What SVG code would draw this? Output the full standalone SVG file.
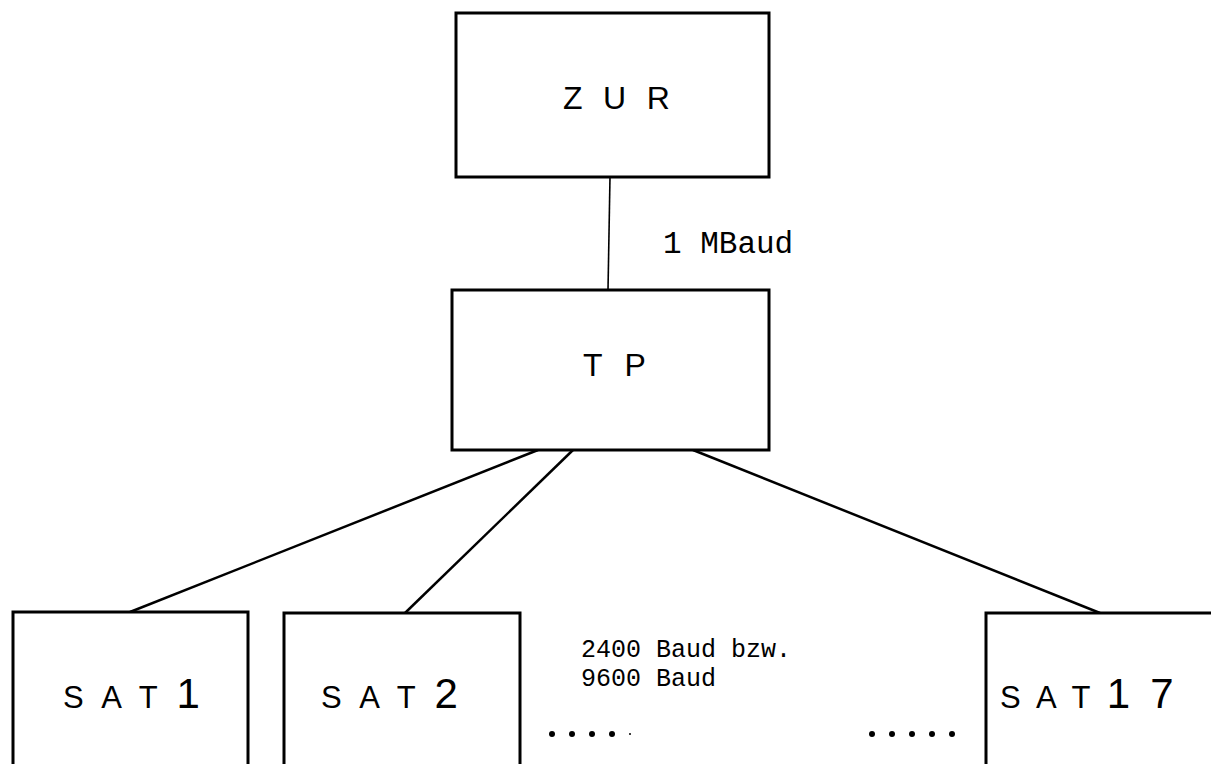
<svg xmlns="http://www.w3.org/2000/svg" width="1211" height="764" viewBox="0 0 1211 764">
<style>
.box{fill:#fff;stroke:#000;stroke-width:3}
.lbl{font-family:"Liberation Sans",Arial,sans-serif;fill:#000}
.dig{font-size:42px}
.mono{font-family:"Liberation Mono","Courier New",monospace;fill:#000}
.conn{stroke:#000;stroke-width:2.5;fill:none}
.dot{fill:#000}
</style>
<rect width="1211" height="764" fill="#fff"/>
<g id="connectors">
<line class="conn" x1="610" y1="177" x2="608" y2="290" style="stroke-width:1.6"/>
<line class="conn" x1="538" y1="450" x2="130" y2="612"/>
<line class="conn" x1="573" y1="450" x2="405" y2="613"/>
<line class="conn" x1="693" y1="450" x2="1100" y2="613"/>
</g>
<g id="ZUR">
<rect class="box" x="456" y="13" width="313" height="164"/>
<text class="lbl" x="563" y="109" font-size="32" letter-spacing="5.8">Z U R</text>
</g>
<g id="TP">
<rect class="box" x="452" y="290" width="317" height="160"/>
<text class="lbl" x="583" y="376" font-size="32" letter-spacing="6.8">T P</text>
</g>
<g id="SAT1">
<rect class="box" x="13" y="612" width="235" height="170"/>
<text class="lbl" x="63" y="708" font-size="31" letter-spacing="5.3">S A T <tspan class="dig">1</tspan></text>
</g>
<g id="SAT2">
<rect class="box" x="284" y="613" width="236" height="170"/>
<text class="lbl" x="321" y="708" font-size="31" letter-spacing="5.3">S A T <tspan class="dig">2</tspan></text>
</g>
<g id="SAT17">
<rect class="box" x="986" y="613" width="260" height="170"/>
<text class="lbl" x="1000" y="708" font-size="31" letter-spacing="4.2">S A T <tspan class="dig">1 7</tspan></text>
</g>
<g id="labels">
<text class="mono" x="663" y="253" font-size="31">1 MBaud</text>
<text class="mono" x="581" y="657" font-size="25">2400 Baud bzw.</text>
<text class="mono" x="581" y="686" font-size="25">9600 Baud</text>
</g>
<g id="dots">
<circle class="dot" cx="552" cy="734" r="3"/>
<circle class="dot" cx="572" cy="734" r="3"/>
<circle class="dot" cx="592" cy="734" r="3"/>
<circle class="dot" cx="612" cy="734" r="3"/>
<circle class="dot" cx="630" cy="734" r="1"/>
<circle class="dot" cx="872" cy="734" r="3"/>
<circle class="dot" cx="892" cy="734" r="3"/>
<circle class="dot" cx="912" cy="734" r="3"/>
<circle class="dot" cx="932" cy="734" r="3"/>
<circle class="dot" cx="952" cy="734" r="3"/>
</g>
</svg>
